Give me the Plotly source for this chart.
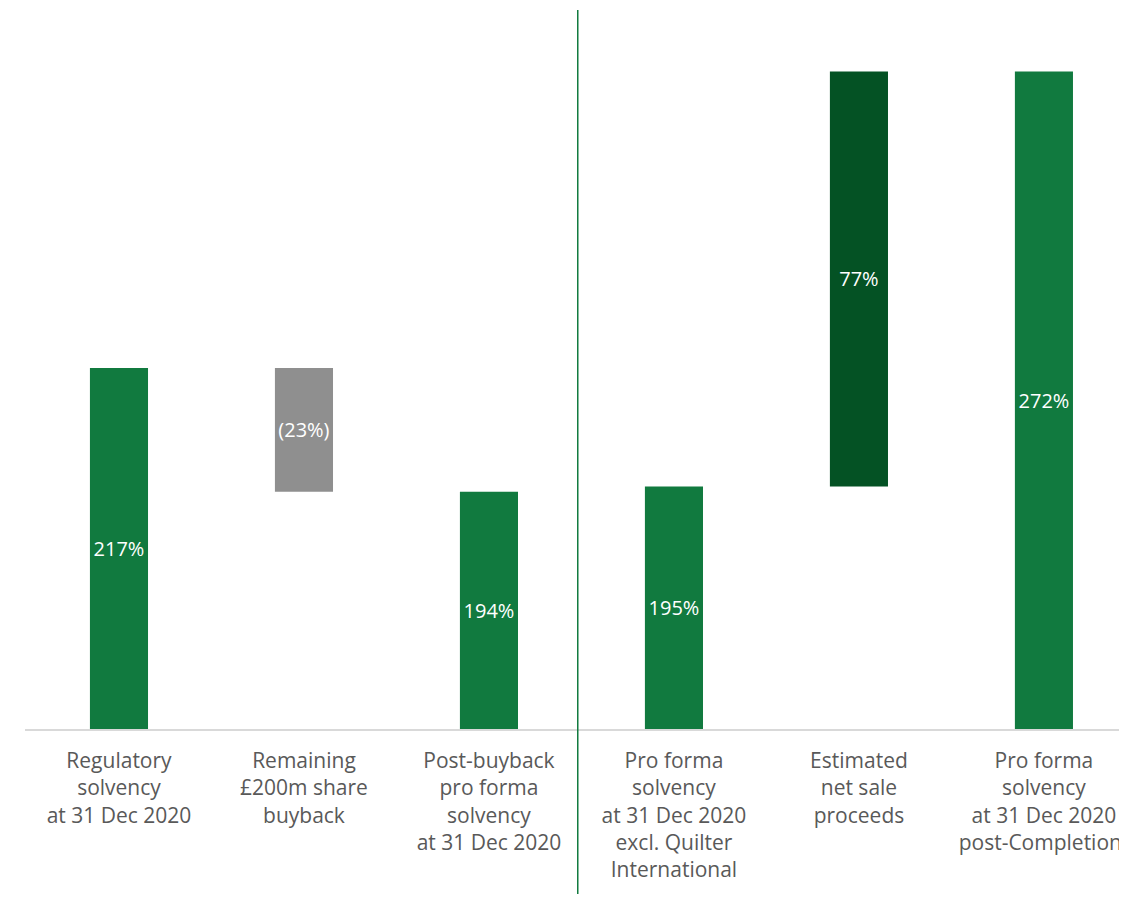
import plotly.graph_objects as go

categories = [
    "Regulatory<br>solvency<br>at 31 Dec 2020",
    "Remaining<br>£200m share<br>buyback",
    "Post-buyback<br>pro forma<br>solvency<br>at 31 Dec 2020",
    "Pro forma<br>solvency<br>at 31 Dec 2020<br>excl. Quilter<br>International",
    "Estimated<br>net sale<br>proceeds",
    "Pro forma<br>solvency<br>at 31 Dec 2020<br>post-Completion¹",
]
values = [217, -23, 194, 195, 77, 272]
kinds = ["total", "delta", "total", "total", "delta", "total"]
bar_labels = ["217%", "(23%)", "194%", "195%", "77%", "272%"]
colors = ["#117a3f", "#8f8f8f", "#117a3f", "#117a3f", "#045224", "#117a3f"]
axis_min = 150
axis_max = 283.4

bases, heights = [], []
prev_top = axis_min
for v, k in zip(values, kinds):
    if k == "total":
        bases.append(axis_min)
        heights.append(v - axis_min)
        prev_top = v
    else:
        if v < 0:
            bases.append(prev_top + v)
            heights.append(-v)
        else:
            bases.append(prev_top)
            heights.append(v)
        prev_top = prev_top + v

xs = list(range(len(categories)))

fig = go.Figure()
fig.add_trace(go.Bar(
    x=xs, y=heights, base=bases,
    marker=dict(color=colors, line=dict(width=0)),
    width=0.314,
    text=bar_labels,
    textposition="inside",
    insidetextanchor="middle",
    textangle=0,
    constraintext="none",
    textfont=dict(family="Open Sans", size=20, color="white"),
    hoverinfo="skip",
))

fig.add_shape(type="line", xref="x", yref="paper",
              x0=2.48, x1=2.48, y0=-0.238, y1=1.0,
              line=dict(color="#117a3f", width=1.5))

fig.update_layout(
    width=1119, height=886,
    margin=dict(l=17, r=0, t=2, b=165),
    plot_bgcolor="white", paper_bgcolor="white",
    showlegend=False,
    font=dict(family="Open Sans", color="#595959"),
    xaxis=dict(
        range=[-0.508, 5.449],
        automargin=False,
        tickmode="array", tickvals=xs, ticktext=categories,
        tickfont=dict(family="Open Sans", size=21, color="#595959"),
        ticklabeloverflow="allow",
        showline=True, linecolor="#d9d9d9", linewidth=1.5,
        showgrid=False, zeroline=False, ticks="",
        ticklabelstandoff=12,
    ),
    yaxis=dict(range=[axis_min, axis_max], visible=False, showgrid=False,
               zeroline=False, automargin=False),
)

fig.write_html("out.html", default_width="1119px", default_height="886px")
